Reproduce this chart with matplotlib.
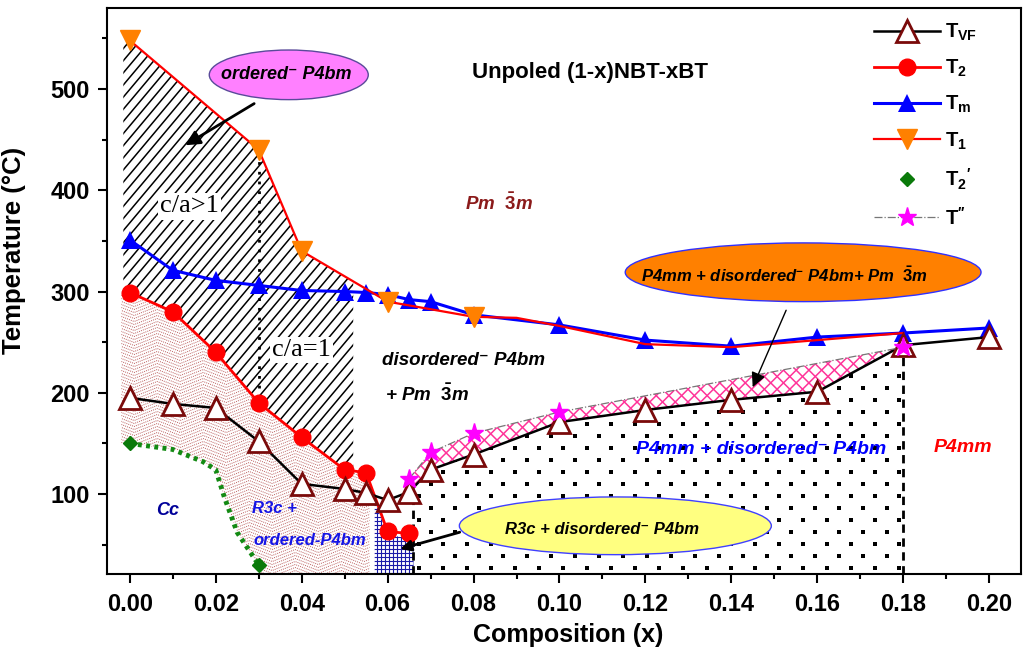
import numpy as np
import matplotlib
matplotlib.use("Agg")
import matplotlib.pyplot as plt
from matplotlib.patches import Polygon, Ellipse
from matplotlib.collections import LineCollection

plt.rcParams['font.family'] = ['Liberation Sans', 'DejaVu Sans']
plt.rcParams['font.weight'] = 'bold'
plt.rcParams['mathtext.fontset'] = 'custom'
plt.rcParams['mathtext.rm'] = 'Liberation Sans:bold'
plt.rcParams['mathtext.it'] = 'Liberation Sans:italic:bold'
plt.rcParams['mathtext.bf'] = 'Liberation Sans:bold'

# transition temperatures vs BT content
x_vf = [0, 0.01, 0.02, 0.03, 0.04, 0.05, 0.055, 0.06, 0.065, 0.07, 0.08, 0.10, 0.12, 0.14, 0.16, 0.18, 0.20]
t_vf = [195, 189, 185, 152, 110, 105, 101, 94, 102, 124, 139, 171, 183, 193, 201, 247, 255]

x_2 = [0, 0.01, 0.02, 0.03, 0.04, 0.05, 0.055, 0.06, 0.065]
t_2 = [299, 280, 240, 190, 156, 124, 121, 63, 61]

x_m = [0, 0.01, 0.02, 0.03, 0.04, 0.05, 0.055, 0.06, 0.065, 0.07, 0.08, 0.10, 0.12, 0.14, 0.16, 0.18, 0.20]
t_m = [351, 321, 311, 306, 301, 300, 299, 297, 292, 290, 277, 267, 252, 246, 255, 259, 264]

x_1 = [0, 0.03, 0.04, 0.06, 0.08, 0.09, 0.10, 0.12, 0.14, 0.16, 0.18]
t_1 = [548, 440, 340, 290, 275, 274, 266, 248, 245, 252, 259]
t1_marked = [0, 1, 2, 3, 4]

# T2' boundary (dotted green), diamonds only at the ends
x_2p = [0, 0.01, 0.017, 0.02, 0.022, 0.025, 0.03]
t_2p = [150, 144, 132, 124, 97, 62, 30]

x_pp = [0.065, 0.07, 0.08, 0.10, 0.18]
t_pp = [115, 141, 160, 181, 245]

# region edges
x_ca = 0.03          # c/a>1 | c/a=1 split
x_hatch_end = 0.052
x_stip_end = 0.0558
x_grid = (0.057, 0.066)
x_mpb = 0.066
x_tet = 0.18

Y_MIN, Y_MAX = 21, 580
X_MIN, X_MAX = -0.0053, 0.2074

fig = plt.figure(figsize=(10.23, 6.56), dpi=100)
ax = fig.add_axes([107 / 1023, 82 / 656, 914 / 1023, 566 / 656])
ax.set_xlim(X_MIN, X_MAX)
ax.set_ylim(Y_MIN, Y_MAX)
ax.set_autoscale_on(False)


def region(verts, z=1):
    poly = Polygon(verts, closed=True, facecolor='none', edgecolor='none', zorder=z)
    ax.add_patch(poly)
    return poly


def line_hatch(verts, angles, step, color, lw, ls='-', z=1):
    # straight line families laid out in pixel space, clipped to the region
    poly = region(verts, z)
    pix = ax.transData.transform(verts)
    c = pix.mean(axis=0)
    r = np.hypot(*(pix.max(0) - pix.min(0)))
    inv = ax.transData.inverted()
    segs = []
    for a in angles:
        t = np.radians(a)
        d = np.array([np.cos(t), np.sin(t)])
        n = np.array([-np.sin(t), np.cos(t)])
        for off in np.arange(-r, r + step, step):
            segs.append(inv.transform([c + n * off - d * r, c + n * off + d * r]))
    lc = LineCollection(segs, colors=color, linewidths=lw, linestyles=ls, zorder=z)
    ax.add_collection(lc, autolim=False)
    lc.set_clip_path(poly)


def zigzag_stipple(verts, color, z=1):
    poly = region(verts, z)
    pix = ax.transData.transform(verts)
    (x0, y0), (x1, y1) = pix.min(0) - 10, pix.max(0) + 10
    inv = ax.transData.inverted()
    xs = np.arange(x0, x1, 1.0)
    period, amp = 46.0, 9.0
    wave = amp * (2 * np.abs(((xs - x0) / period) % 1 - 0.5) - 0.5)
    rows = np.arange(y0, y1, 3.0)
    segs = [inv.transform(np.column_stack([xs, y + wave])) for y in rows]
    styles = [((i % 3) * 0.7, (1.0, 1.1)) for i in range(len(rows))]
    lc = LineCollection(segs, colors=color, linewidths=0.7, linestyles=styles, alpha=0.8, zorder=z)
    ax.add_collection(lc, autolim=False)
    lc.set_clip_path(poly)


def dot_fill(verts, z=1):
    poly = region(verts, z)
    pix = ax.transData.transform(verts)
    (x0, y0), (x1, y1) = pix.min(0), pix.max(0)
    pts = []
    for i, y in enumerate(np.arange(y0 + 6, y1, 12.0)):
        for x in np.arange(x0 + 6 + 12 * (i % 2), x1, 24.0):
            pts.append((x, y))
    pts = ax.transData.inverted().transform(np.array(pts))
    dots, = ax.plot(pts[:, 0], pts[:, 1], 's', ms=2.6, mew=0, color='k', zorder=z)
    dots.set_clip_path(poly)


# ordered P4bm (c/a>1 and c/a=1): diagonal hatch between T1 and T2
xs = np.linspace(0, x_hatch_end, 80)
hatch_verts = ([(-0.0015, t_2[0]), (-0.0015, t_1[0] - 3)]
               + list(zip(xs, np.interp(xs, x_1, t_1)))
               + list(zip(xs[::-1], np.interp(xs[::-1], x_2, t_2))))
line_hatch(hatch_verts, [50], 7.8, 'k', 1.1)

# R3c + ordered-P4bm: brown stipple below T2
xs = np.linspace(0, x_stip_end, 80)
stip_verts = ([(-0.002, t_2p[0]), (-0.002, t_2[0])]
              + list(zip(xs, np.interp(xs, x_2, t_2)))
              + [(x_stip_end, Y_MIN), (x_2p[-1], Y_MIN)]
              + list(zip(x_2p[::-1], t_2p[::-1])))
zigzag_stipple(stip_verts, '#a83232')

# blue grid at the MPB
xs = np.linspace(*x_grid, 20)
grid_verts = list(zip(xs, np.interp(xs, x_2, t_2) - 4)) + [(x_grid[1], Y_MIN), (x_grid[0], Y_MIN)]
line_hatch(grid_verts, [0, 90], 4.0, '#1a1aa8', 0.8)

# dotted field under T_VF
xs = np.linspace(x_mpb, x_tet, 120)
dot_verts = list(zip(xs, np.interp(xs, x_vf, t_vf))) + [(x_tet, Y_MIN), (x_mpb, Y_MIN)]
dot_fill(dot_verts)

# pink cross-hatch between T_VF and T''
xs = np.linspace(x_pp[0], x_pp[-1], 120)
pink_verts = list(zip(xs, np.interp(xs, x_pp, t_pp))) + list(zip(xs[::-1], np.interp(xs[::-1], x_vf, t_vf)))
line_hatch(pink_verts, [45, -45], 9.0, '#ff3399', 1.1)

# phase boundaries
ax.plot([x_mpb, x_mpb], [Y_MIN, np.interp(x_mpb, x_vf, t_vf)], color='k', lw=2, ls=(0, (3, 2)), zorder=2)
ax.plot([x_tet, x_tet], [Y_MIN, np.interp(x_tet, x_vf, t_vf)], color='k', lw=2, ls=(0, (3, 2)), zorder=2)
ax.plot([x_ca, x_ca], [np.interp(x_ca, x_2, t_2) + 15, np.interp(x_ca, x_1, t_1)],
        color='k', lw=2, ls=(0, (1, 2.5)), zorder=2)
ax.plot(x_2p, t_2p, color='#138a13', lw=3.5, ls=(0, (0.8, 0.9)), zorder=3)

# data curves
l_m, = ax.plot(x_m, t_m, '-^', color='#0000ff', lw=2.2, ms=13, mew=0, zorder=4, label=r'$\mathrm{T_m}$')
l_1, = ax.plot(x_1, t_1, '-v', color='#ff0000', lw=1.6, ms=14, mfc='#ff8000', mec='#ff8000',
               markevery=t1_marked, zorder=5, label=r'$\mathrm{T_1}$')
l_2, = ax.plot(x_2, t_2, '-o', color='#ff0000', lw=2.0, ms=12, zorder=5, label=r'$\mathrm{T_2}$')
l_vf, = ax.plot(x_vf, t_vf, '-^', color='k', lw=1.8, ms=16, mfc='white', mec='#7a0a0a', mew=2,
                zorder=6, label=r'$\mathrm{T_{VF}}$')
l_pp, = ax.plot(x_pp, t_pp, color='#777777', lw=0.9, ls='-.', marker='*', ms=14,
                mfc='#ff00ff', mec='#ff00ff', zorder=6, label=r"$\mathrm{T}''$")
l_2p, = ax.plot([x_2p[0], x_2p[-1]], [t_2p[0], t_2p[-1]], 'D', ls='none', color='#0a7a0a', ms=7,
                zorder=6, label=r"$\mathrm{T_2}'$")

# phase labels
bi = dict(fontweight='bold', fontstyle='italic')
clear = dict(facecolor='white', edgecolor='none', pad=1.5)
sup_minus = r'$^{\mathbf{-}}$'


def bubble(xy, w, h, color, edge):
    ax.add_patch(Ellipse(xy, w, h, facecolor=color, edgecolor=edge, lw=1.0, zorder=7))


bubble((0.0370, 514), 0.0370, 49, '#ff80ff', '#5a4a9a')
ax.text(0.0363, 514, 'ordered\u207b P4bm', fontsize=13, ha='center', va='center', zorder=8, **bi)
ax.annotate('', xy=(0.0123, 443), xytext=(0.0295, 487), zorder=8,
            arrowprops=dict(arrowstyle='-|>', color='k', lw=2, mutation_scale=22))

bubble((0.1567, 319), 0.0828, 58, '#ff8000', '#3030ff')
ax.text(0.1523, 316, 'P4mm + disordered' + sup_minus + r' P4bm+ Pm  $\bar{\mathit{3}}$m', fontsize=12,
        ha='center', va='center', zorder=8, **bi)
ax.annotate('', xy=(0.1447, 203), xytext=(0.153, 284), zorder=8,
            arrowprops=dict(arrowstyle='-|>', color='k', lw=1, mutation_scale=22))

bubble((0.1130, 68.6), 0.0726, 57, '#ffff80', '#4040ff')
ax.text(0.1100, 65, 'R3c + disordered\u207b P4bm', fontsize=12, ha='center', va='center', zorder=8, **bi)
ax.annotate('', xy=(0.0623, 45), xytext=(0.0774, 63), zorder=8,
            arrowprops=dict(arrowstyle='-|>', color='k', lw=2, mutation_scale=16))

ax.text(0.107, 516, 'Unpoled (1-x)NBT-xBT', fontsize=16, fontweight='bold', ha='center', va='center')
ax.text(0.014, 384, 'c/a>1', family='Liberation Serif', fontweight='normal', fontsize=19,
        ha='center', va='center', zorder=8, bbox=clear)
ax.text(0.040, 242, 'c/a=1', family='Liberation Serif', fontweight='normal', fontsize=19,
        ha='center', va='center', zorder=8, bbox=clear)
ax.text(0.086, 387, r'Pm  $\bar{\mathit{3}}$m', color='#8b1a1a', fontsize=13.5, ha='center', va='center', **bi)
ax.text(0.0777, 232, 'disordered\u207b P4bm', fontsize=13.5, ha='center', va='center', **bi)
ax.text(0.0593, 198, r'+ Pm  $\bar{\mathit{3}}$m', fontsize=13.5, ha='left', va='center', **bi)
ax.text(0.147, 144, 'P4mm + disordered\u207b P4bm', color='#0000ff', fontsize=14, ha='center',
        va='center', zorder=8, **bi)
ax.text(0.194, 146, 'P4mm', color='#ff0000', fontsize=14, ha='center', va='center', **bi)
ax.text(0.0089, 84, 'Cc', color='#000099', fontsize=13, ha='center', va='center', **bi)
ax.text(0.0337, 86, 'R3c +', color='#1414e6', fontsize=12, ha='center', va='center', zorder=8, **bi)
ax.text(0.042, 54, 'ordered-P4bm', color='#1414e6', fontsize=12, ha='center', va='center', zorder=8, **bi)

# axes styling
ax.set_xticks(np.arange(0, 0.201, 0.02))
ax.set_xticks(np.arange(0, 0.201, 0.01), minor=True)
ax.set_yticks(np.arange(100, 501, 100))
ax.set_yticks(np.arange(50, 551, 100), minor=True)
ax.xaxis.set_major_formatter(plt.FuncFormatter(lambda v, p: f'{v:.2f}'))
ax.tick_params(which='major', direction='out', length=6.5, width=1.5, labelsize=17, pad=6)
ax.tick_params(which='minor', direction='out', length=3.5, width=1.5)
ax.tick_params(axis='x', pad=7)
for lab in ax.get_xticklabels() + ax.get_yticklabels():
    lab.set_fontweight('bold')
for s in ax.spines.values():
    s.set_linewidth(1.5)

ax.set_xlabel('Composition (x)', fontsize=18, fontweight='bold')
ax.set_ylabel('Temperature (\u00b0C)', fontsize=18.5, fontweight='bold')
ax.xaxis.set_label_coords(0.505, -0.086)
ax.yaxis.set_label_coords(-0.0885, 0.571)

ax.legend(handles=[l_vf, l_2, l_m, l_1, l_2p, l_pp], loc='upper left', bbox_to_anchor=(0.83, 0.99),
          frameon=False, fontsize=14.5, handlelength=3.3, handletextpad=0.25, labelspacing=0.74,
          borderaxespad=0)

fig.savefig('out.png', dpi=100)
